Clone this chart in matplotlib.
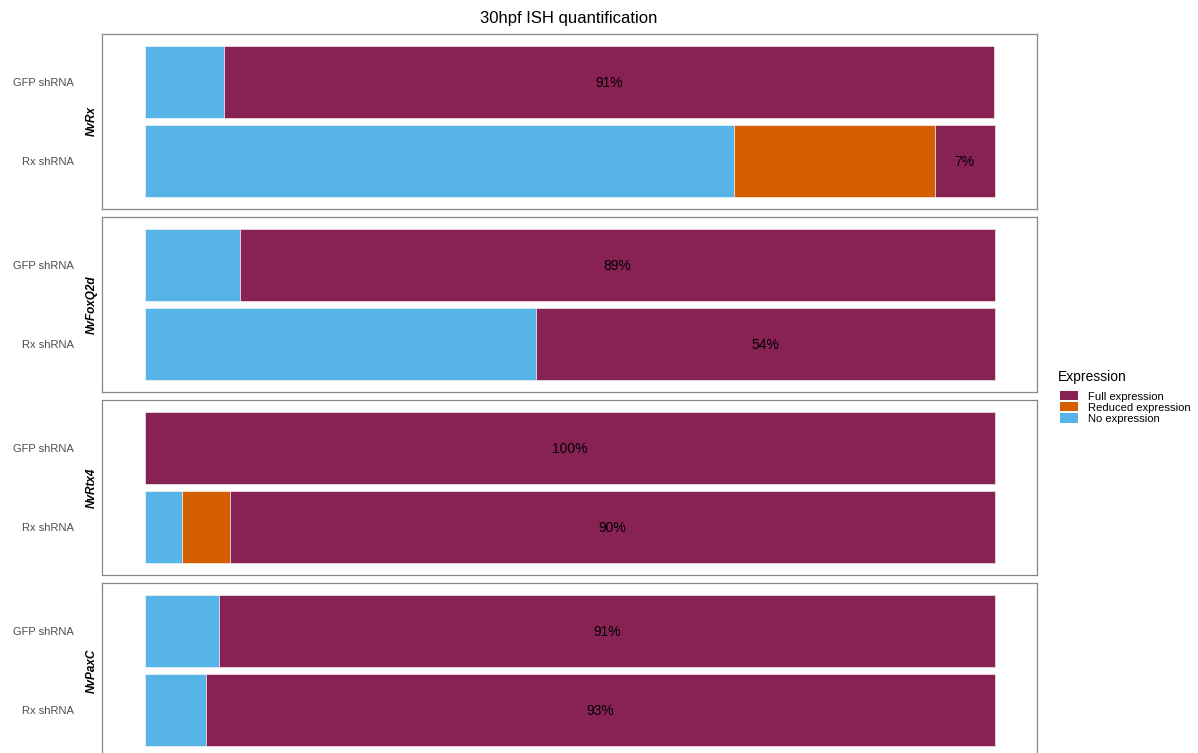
import matplotlib
matplotlib.use('Agg')
import matplotlib.pyplot as plt
from matplotlib.patches import Patch

plt.rcParams['font.family'] = ['Liberation Sans', 'DejaVu Sans']

# Percentages per gene / treatment
genes = ['NvRx', 'NvFoxQ2d', 'NvRtx4', 'NvPaxC']
treatments = ['GFP shRNA', 'Rx shRNA']
no_expr = [[9.4, 69.4], [11.2, 46.0], [0.0, 4.4], [8.8, 7.2]]
reduced_expr = [[0.0, 23.6], [0.0, 0.0], [0.0, 5.6], [0.0, 0.0]]
full_expr = [[90.6, 7.0], [88.8, 54.0], [100.0, 90.0], [91.2, 92.8]]
full_labels = [['91%', '7%'], ['89%', '54%'], ['100%', '90%'], ['91%', '93%']]

col_full = '#882255'
col_reduced = '#D55E00'
col_none = '#56B4E9'

W, H = 1198, 753
fig = plt.figure(figsize=(W / 100, H / 100), dpi=100)
fig.patch.set_facecolor('white')

panel_tops = [34, 217, 400, 583]
panel_h = 175
left_px, width_px = 102, 935

ypos = [2, 1]  # GFP on top, Rx below

for g, top in enumerate(panel_tops):
    ax = fig.add_axes([left_px / W, 1 - (top + panel_h) / H,
                       width_px / W, panel_h / H])
    for i, y in enumerate(ypos):
        n = no_expr[g][i] / 100
        r = reduced_expr[g][i] / 100
        f = full_expr[g][i] / 100
        kw = dict(height=0.9, edgecolor='white', linewidth=0.4)
        if n > 0:
            ax.barh(y, n, left=0, color=col_none, **kw)
        if r > 0:
            ax.barh(y, r, left=n, color=col_reduced, **kw)
        ax.barh(y, f, left=n + r, color=col_full, **kw)
        ax.text(n + r + f / 2, y - 0.01, full_labels[g][i], ha='center',
                va='center', fontsize=10, color='black')

    ax.set_xlim(-0.05, 1.05)
    ax.set_ylim(0.4, 2.6)
    ax.set_xticks([])
    ax.set_yticks(ypos)
    ax.set_yticklabels(treatments, fontsize=8, color='#4D4D4D')
    ax.tick_params(axis='y', length=0, pad=20)
    for s in ax.spines.values():
        s.set_color('#888888')
        s.set_linewidth(0.9)
    ax.text(-0.011, 0.5, genes[g], transform=ax.transAxes, rotation=90,
            ha='center', va='center', fontsize=8.5, fontweight='bold',
            fontstyle='italic', color='black')

fig.text(569 / W, 1 - 18 / H, '30hpf ISH quantification', ha='center',
         va='center', fontsize=12, color='black')

# Legend: title placed separately to get the gap above the keys
fig.text(1058 / W, 1 - 377 / H, 'Expression', ha='left', va='center',
         fontsize=10, color='black')
handles = [Patch(facecolor=col_full, edgecolor='none'),
           Patch(facecolor=col_reduced, edgecolor='none'),
           Patch(facecolor=col_none, edgecolor='none')]
fig.legend(handles, ['Full expression', 'Reduced expression', 'No expression'],
           loc='upper left', bbox_to_anchor=(1060 / W, 1 - 391 / H),
           frameon=False, fontsize=8.1, handlelength=1.6, handleheight=0.9,
           labelspacing=0.05, handletextpad=0.85, borderpad=0,
           borderaxespad=0)

fig.savefig('out.png', dpi=100, facecolor='white')
